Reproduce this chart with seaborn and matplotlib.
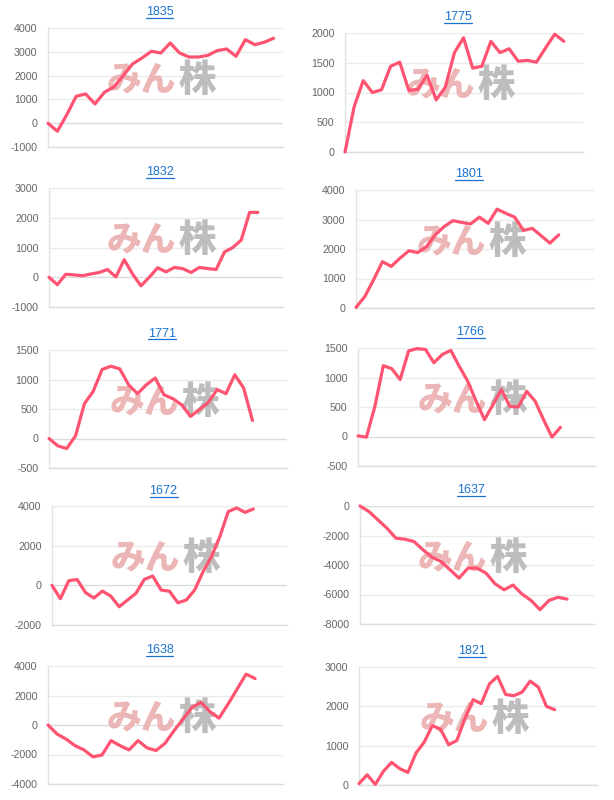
import numpy as np
import pandas as pd
import matplotlib
matplotlib.use("Agg")
import matplotlib.pyplot as plt
import seaborn as sns
from matplotlib.lines import Line2D

# ---------------- data ----------------
codes = ["1835", "1775", "1832", "1801", "1771", "1766", "1672", "1637", "1638", "1821"]

v1835 = [0, -340, 360, 1130, 1230, 810, 1300, 1520, 2000, 2490, 2740, 3020, 2950,
         3370, 2950, 2780, 2780, 2850, 3050, 3120, 2810, 3510, 3300, 3400, 3570]
v1775 = [0, 760, 1200, 1000, 1045, 1440, 1510, 1035, 1055, 1290, 875, 1090, 1670,
         1920, 1410, 1440, 1860, 1670, 1735, 1525, 1540, 1510, 1750, 1980, 1860]
v1832 = [0, -250, 100, 80, 50, 110, 160, 260, 10, 590, 110, -290, 0, 320, 180,
         330, 290, 160, 330, 290, 260, 850, 1000, 1250, 2180, 2180]
v1801 = [20, 390, 960, 1570, 1410, 1690, 1940, 1880, 2080, 2480, 2760, 2960, 2900,
         2850, 3080, 2870, 3350, 3210, 3080, 2630, 2700, 2450, 2200, 2480]
v1771 = [0, -125, -170, 45, 590, 800, 1170, 1225, 1180, 910, 760, 910, 1025, 740,
         675, 570, 375, 490, 610, 830, 760, 1080, 855, 305]
v1766 = [10, -10, 510, 1200, 1150, 965, 1450, 1490, 1475, 1250, 1390, 1460, 1190,
         940, 600, 285, 540, 795, 510, 500, 765, 600, 285, -10, 155]
v1672 = [0, -675, 236, 290, -370, -640, -290, -540, -1080, -740, -405, 300, 470,
         -235, -300, -880, -740, -235, 690, 1450, 2460, 3720, 3900, 3680, 3850]
v1637 = [0, -380, -945, -1510, -2185, -2250, -2410, -2970, -3470, -3760, -4320,
         -4890, -4210, -4210, -4550, -5270, -5680, -5360, -5970, -6400, -7030,
         -6400, -6190, -6310]
v1638 = [0, -610, -950, -1400, -1690, -2160, -2030, -1060, -1400, -1690, -1060,
         -1550, -1730, -1240, -380, 405, 1190, 1530, 900, 470, 1420, 2430, 3450, 3150]
v1821 = [35, 260, 15, 350, 575, 415, 320, 815, 1090, 1510, 1420, 1025, 1130, 1690,
         2170, 2070, 2570, 2760, 2300, 2270, 2360, 2640, 2490, 2000, 1915]

series = {"1835": v1835, "1775": v1775, "1832": v1832, "1801": v1801, "1771": v1771,
          "1766": v1766, "1672": v1672, "1637": v1637, "1638": v1638, "1821": v1821}

yticks = {
    "1835": [-1000, 0, 1000, 2000, 3000, 4000],
    "1775": [0, 500, 1000, 1500, 2000],
    "1832": [-1000, 0, 1000, 2000, 3000],
    "1801": [0, 1000, 2000, 3000, 4000],
    "1771": [-500, 0, 500, 1000, 1500],
    "1766": [-500, 0, 500, 1000, 1500],
    "1672": [-2000, 0, 2000, 4000],
    "1637": [-8000, -6000, -4000, -2000, 0],
    "1638": [-4000, -2000, 0, 2000, 4000],
    "1821": [0, 1000, 2000, 3000],
}

# ---------------- layout (pixels) ----------------
W, H = 614, 800
boxes = {  # left, right, top, bottom
    "1835": (48, 283, 28, 147),
    "1775": (345, 583, 33, 152),
    "1832": (49, 283, 188, 307),
    "1801": (356, 594, 190, 308),
    "1771": (49, 287, 350, 468),
    "1766": (358, 595, 348, 466),
    "1672": (52, 287, 506, 625),
    "1637": (360, 594, 506, 624),
    "1638": (48, 283, 666, 784),
    "1821": (359, 597, 667, 785),
}
xmax = {"1835": 25, "1775": 26.1, "1832": 28, "1801": 27, "1771": 26.9,
        "1766": 28.1, "1672": 28, "1637": 26, "1638": 26.1, "1821": 29.2}
title_y = {"1835": 12, "1775": 17, "1832": 172, "1801": 174, "1771": 334,
           "1766": 332, "1672": 491, "1637": 490, "1638": 650, "1821": 651}

sns.set_style("white")
plt.rcParams['font.family'] = ['Liberation Sans', 'DejaVu Sans']

fig = plt.figure(figsize=(W / 100, H / 100), dpi=100)

LINE = "#ff5372"
GRID = "#ebebeb"
CJK = ["Noto Sans CJK JP", "DejaVu Sans"]
titles = []
for code in codes:
    L, R, T, B = boxes[code]
    ax = fig.add_axes([L / W, 1 - B / H, (R - L) / W, (B - T) / H])
    vals = series[code]
    df = pd.DataFrame({"x": np.arange(len(vals)), "y": vals})
    ticks = yticks[code]
    for t in ticks:
        ax.axhline(t, color=("#dcdcdc" if t == 0 else GRID), lw=1.0, zorder=0)
    # watermark
    ax.text(0.545, 0.56, "みん", transform=ax.transAxes, ha="right", va="center",
            fontsize=25, fontweight="heavy", color="#ecb6b6", family=CJK, zorder=1)
    ax.text(0.555, 0.56, "株", transform=ax.transAxes, ha="left", va="center",
            fontsize=27, fontweight="heavy", color="#bdbdbd", family=CJK, zorder=1)
    sns.lineplot(data=df, x="x", y="y", ax=ax, color=LINE, linewidth=2.3,
                 clip_on=False, zorder=3)
    ax.set_xlim(0, xmax[code])
    ax.set_ylim(ticks[0], ticks[-1])
    ax.set_yticks(ticks)
    ax.set_yticklabels([str(t) for t in ticks])
    ax.set_xticks([])
    ax.set_xlabel("")
    ax.set_ylabel("")
    ax.tick_params(axis="y", length=6, width=1, color=GRID, labelsize=7.7,
                   labelcolor="#666666", pad=1.5)
    for s in ["top", "right"]:
        ax.spines[s].set_visible(False)
    ax.spines["left"].set_color("#e3e3e3")
    ax.spines["bottom"].set_color("#dcdcdc")
    ax.spines["left"].set_linewidth(1)
    ax.spines["bottom"].set_linewidth(1)
    ax.set_facecolor("none")
    tx = (L + R) / 2 - 6
    t = fig.text(tx / W, 1 - title_y[code] / H, code, ha="center", va="center",
                 fontsize=9, color="#1a73d0")
    titles.append(t)

fig.canvas.draw()
r = fig.canvas.get_renderer()
for t in titles:
    bb = t.get_window_extent(r)
    y = bb.y0 + 0.5
    fig.add_artist(Line2D([bb.x0 / W, bb.x1 / W], [y / H, y / H],
                          transform=fig.transFigure, color="#1a73d0", lw=0.9))

fig.savefig("out.png", dpi=100)
